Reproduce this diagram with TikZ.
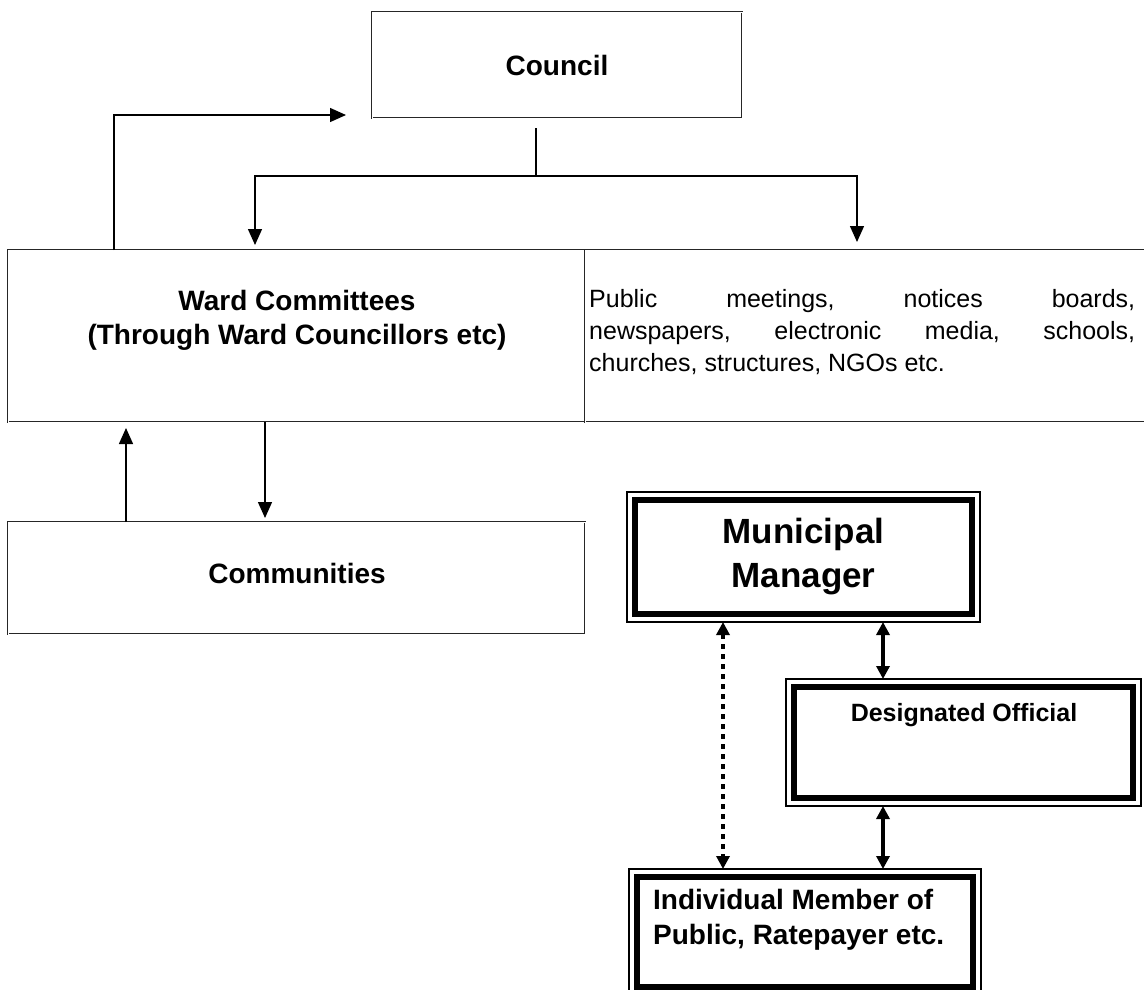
\documentclass[tikz,border=0pt]{standalone}
\usepackage{fontspec}
\setmainfont{Liberation Sans}
\usetikzlibrary{arrows.meta}
\begin{document}
\begin{tikzpicture}[x=1pt,y=-1pt,
  thinbox/.style={draw=black!85, double, double distance=0.9pt, line width=0.9pt, outer sep=0pt, inner sep=0pt},
  heavybox/.style={draw, line width=1.2pt, outer sep=0pt, inner sep=0pt,
    path picture={\draw[line width=6pt] ([shift={(8,8)}]path picture bounding box.north west) rectangle ([shift={(-8,-8)}]path picture bounding box.south east);}},
  txt/.style={font=\bfseries\fontsize{28}{34}\selectfont, align=center, inner sep=0pt},
  thinline/.style={line width=1.4pt},
  arr/.style={-{Triangle[length=16pt,width=14pt]}, line width=1.4pt},
  boldarr/.style={{Triangle[length=13pt,width=13pt]}-{Triangle[length=13pt,width=13pt]}, line width=3.5pt},
  dotarr/.style={{Triangle[length=13pt,width=13pt]}-{Triangle[length=13pt,width=13pt]}, line width=4pt, dash pattern=on 5pt off 5pt}
]
\useasboundingbox (0,0) rectangle (1144,989);

% boxes
\node[thinbox, minimum width=370pt, minimum height=106pt, txt] (council) at (557,65) {Council};
\node[thinbox, minimum width=577pt, minimum height=172pt] (ward) at (296.5,336) {};
\node[txt] (wardtxt) at (297,320) {Ward Committees\\(Through Ward Councillors etc)};
\node[thinbox, minimum width=590pt, minimum height=172pt] (public) at (880,336) {};
\node[anchor=west, inner sep=0pt, font=\fontsize{25}{32}\selectfont, align=left] (pubtxt) at (589,332)
  {\hbox to 546pt{Public\hfill meetings,\hfill notices\hfill boards,}\\
   \hbox to 546pt{newspapers,\hfill electronic\hfill media,\hfill schools,}\\
   churches, structures, NGOs etc.};
\node[thinbox, minimum width=577pt, minimum height=112pt] (comm) at (296.5,578) {};
\node[txt] (commtxt) at (297,573) {Communities};

\node[heavybox, minimum width=353pt, minimum height=130pt, font=\bfseries\fontsize{35}{44}\selectfont, align=center] (mgr) at (803.5,557) {Municipal\\Manager};
\node[heavybox, minimum width=355pt, minimum height=127pt] (desig) at (963.5,742.5) {};
\node[inner sep=0pt, font=\bfseries\fontsize{25}{30}\selectfont] (desigtxt) at (964,715) {Designated Official};
\node[heavybox, minimum width=352pt, minimum height=126pt] (indiv) at (805,932) {};
\node[anchor=west, inner sep=0pt, align=left, font=\bfseries\fontsize{28}{35}\selectfont] (indivtxt) at (653,919.5) {Individual Member of\\Public, Ratepayer etc.};

% helper coordinates
\coordinate (fbturn) at (114,115);
\coordinate (fbend) at (346,115);
\coordinate (stem) at (536,128);
\coordinate (brl) at (255,176);
\coordinate (brr) at (857,176);
\coordinate (upx) at (126,0);
\coordinate (dnx) at (265,0);
\coordinate (dotx) at (723,0);
\coordinate (solx) at (883,0);

% connectors
\draw[arr] (ward.north -| fbturn) -- (fbturn) -- (fbend);
\draw[thinline, shorten <=10pt] (council.south -| stem) -- (stem |- brl);
\draw[arr, shorten >=5pt] (stem |- brl) -| (ward.north -| brl);
\draw[arr, shorten >=8pt] (stem |- brr) -| (public.north -| brr);
\draw[arr, shorten >=6pt] (comm.north -| upx) -- (ward.south -| upx);
\draw[arr, shorten >=4pt] (ward.south -| dnx) -- (comm.north -| dnx);
\draw[dotarr] (mgr.south -| dotx) -- (indiv.north -| dotx);
\draw[boldarr] (mgr.south -| solx) -- (desig.north -| solx);
\draw[boldarr] (desig.south -| solx) -- (indiv.north -| solx);
\end{tikzpicture}
\end{document}
